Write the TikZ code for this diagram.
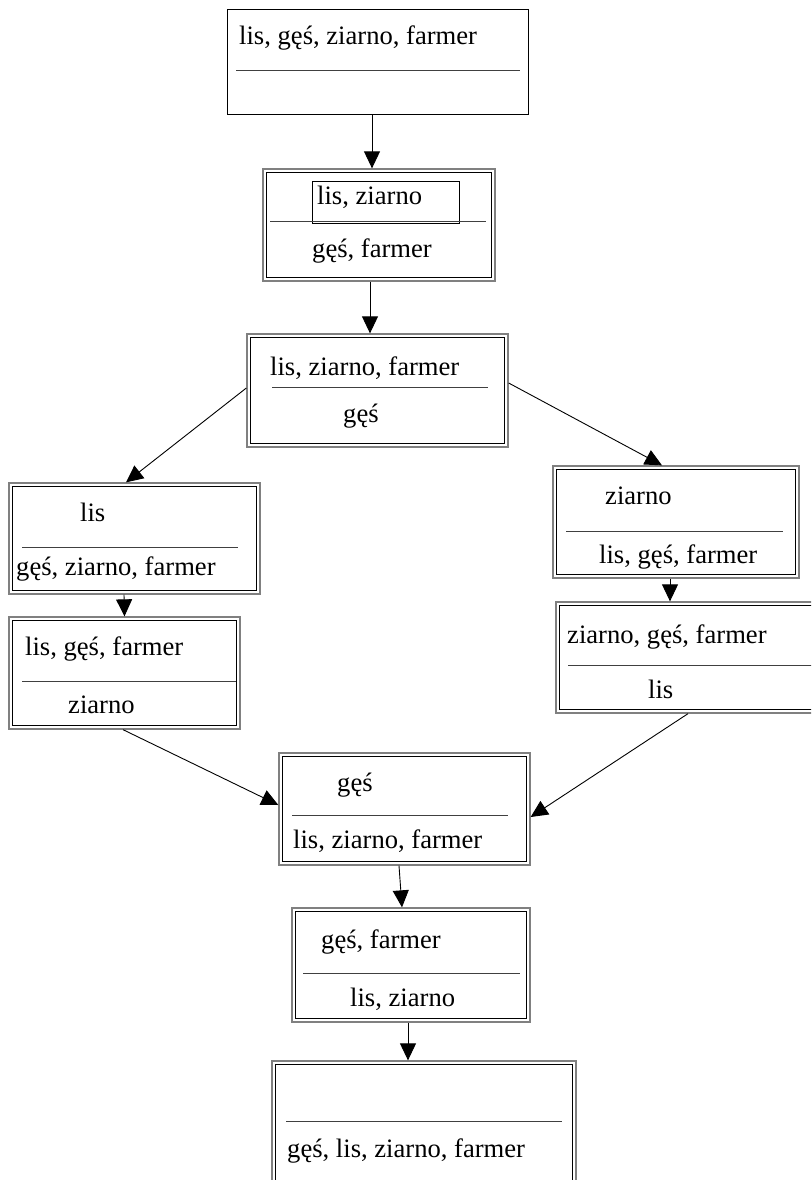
\documentclass[tikz,border=0pt]{standalone}
\usepackage{fontspec}
\setmainfont{Liberation Serif}
\usetikzlibrary{arrows.meta}
\tikzset{
  state/.style={draw=gray, line width=1.3pt, inner sep=0pt},
  lbl/.style={anchor=base west, inner sep=0pt, font=\fontsize{26.6}{30}\selectfont},
  bar/.style={draw=black!75, line width=1pt},
  move/.style={-{Triangle[length=17pt,width=16pt]}, line width=0.9pt}
}
\begin{document}
\begin{tikzpicture}[x=1pt, y=-1pt]
	\useasboundingbox (0,0) rectangle (811,1180);
	\clip (0,0) rectangle (811,1180);

	\node[state, draw=black, line width=1pt, minimum width=301pt, minimum height=105pt] at (377.5, 62.5) (s1) {};
	\node[lbl] at (239, 45) (t1) {lis, gęś, ziarno, farmer};
	\draw[bar] (236, 71) -- (520, 71);

	\node[state, minimum width=232pt, minimum height=112pt] at (379, 225) (s2) {};
	\draw[line width=0.9pt] (312, 181) rectangle (459, 223);
	\node[lbl] at (317, 204) (t2a) {lis, ziarno};
	\draw[bar] (270, 221) -- (486, 221);
	\node[lbl] at (312, 257) (t2b) {gęś, farmer};

	\node[state, minimum width=261pt, minimum height=113pt] at (377.5, 390.5) (s3) {};
	\node[lbl] at (270, 375) (t3a) {lis, ziarno, farmer};
	\draw[bar] (272, 387) -- (488, 387);
	\node[lbl] at (343, 422) (t3b) {gęś};

	\node[state, minimum width=251pt, minimum height=111pt] at (134.5, 538.5) (s4) {};
	\node[lbl] at (80, 521) (t4a) {lis};
	\draw[bar] (22, 547) -- (238, 547);
	\node[lbl] at (16, 575) (t4b) {gęś, ziarno, farmer};

	\node[state, minimum width=231pt, minimum height=112pt] at (124.5, 673) (s5) {};
	\node[lbl] at (25, 655) (t5a) {lis, gęś, farmer};
	\draw[bar] (22, 681) -- (237, 681);
	\node[lbl] at (68, 713) (t5b) {ziarno};

	\node[state, minimum width=246pt, minimum height=112pt] at (676, 522) (s6) {};
	\node[lbl] at (605, 504) (t6a) {ziarno};
	\draw[bar] (566, 531) -- (783, 531);
	\node[lbl] at (599, 563) (t6b) {lis, gęś, farmer};

	\node[state, minimum width=264pt, minimum height=111pt] at (688, 657.5) (s7) {};
	\node[lbl] at (567, 643) (t7a) {ziarno, gęś, farmer};
	\draw[bar] (568, 665) -- (815, 665);
	\node[lbl] at (648, 698) (t7b) {lis};

	\node[state, minimum width=251pt, minimum height=112pt] at (404.5, 809) (s8) {};
	\node[lbl] at (337, 791) (t8a) {gęś};
	\draw[bar] (292, 815) -- (508, 815);
	\node[lbl] at (293, 848) (t8b) {lis, ziarno, farmer};

	\node[state, minimum width=238pt, minimum height=114pt] at (411, 965) (s9) {};
	\node[lbl] at (321, 948) (t9a) {gęś, farmer};
	\draw[bar] (303, 973) -- (520, 973);
	\node[lbl] at (350, 1006) (t9b) {lis, ziarno};

	\node[state, minimum width=304pt, minimum height=139pt] at (424, 1130.5) (s10) {};
	\draw[bar] (286, 1121) -- (562, 1121);
	\node[lbl] at (287, 1157) (t10) {gęś, lis, ziarno, farmer};

	% inner line of the double frames
	\foreach \n in {s2,s3,s4,s5,s6,s7,s8,s9,s10}
		\draw[line width=1pt] ([xshift=4pt,yshift=-4pt]\n.north west) rectangle ([xshift=-4pt,yshift=4pt]\n.south east);

	\draw[move] ([xshift=-5.5pt]s1.south) -- ([xshift=-7pt]s2.north);
	\draw[move] ([xshift=-9pt]s2.south) -- ([xshift=-7.5pt]s3.north);
	\draw[move] ([yshift=2.5pt]s3.west) -- ([xshift=-8.5pt]s4.north);
	\draw[move] ([yshift=7.5pt]s3.east) -- ([xshift=-14pt]s6.north);
	\draw[move] ([xshift=-10.5pt]s4.south) -- (s5.north);
	\draw[move] ([xshift=-6pt]s6.south) -- ([xshift=-18pt]s7.north);
	\draw[move] ([xshift=-1.5pt]s5.south) -- ([yshift=4pt]s8.west);
	\draw[move] (s7.south) -- ([yshift=-8pt]s8.east);
	\draw[move] ([xshift=-5.5pt]s8.south) -- ([xshift=-9pt]s9.north);
	\draw[move] ([xshift=-3pt]s9.south) -- ([xshift=-16pt]s10.north);
\end{tikzpicture}
\end{document}
